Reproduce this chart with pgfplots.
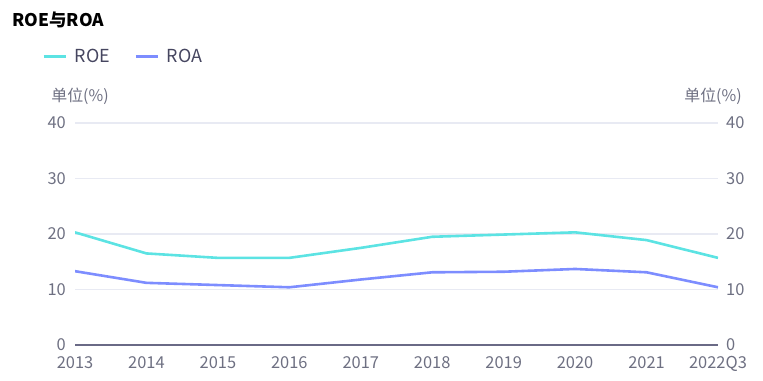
\documentclass[border=0pt]{standalone}
\usepackage{pgfplots}
\pgfplotsset{compat=1.18}
\usepackage{fontspec}
\setmainfont{Noto Sans CJK SC}
\definecolor{roe}{HTML}{5CE3E3}
\definecolor{roa}{HTML}{7D8DFF}
\definecolor{txt}{HTML}{6E7082}
\definecolor{legtxt}{HTML}{464660}
\definecolor{gridc}{HTML}{E8EAF3}
\definecolor{axisc}{HTML}{6A6A86}
\begin{document}
\begin{tikzpicture}[x=1bp,y=1bp]
\useasboundingbox (0,0) rectangle (763,380);
\node[anchor=west, inner sep=0pt, font=\bfseries\fontsize{17.5}{17.5}\selectfont, text=black] at (12,360) {ROE与ROA};
\node[inner sep=0pt, font=\fontsize{16}{16}\selectfont, text=txt] at (80,284) {单位(\%)};
\node[inner sep=0pt, font=\fontsize{16}{16}\selectfont, text=txt] at (713,284) {单位(\%)};
\begin{axis}[
  at={(75bp,35bp)}, anchor=south west, scale only axis,
  width=643bp, height=222bp,
  xmin=0, xmax=9, ymin=0, ymax=40,
  xtick={0,...,9},
  xticklabels={2013,2014,2015,2016,2017,2018,2019,2020,2021,2022Q3},
  ytick={0,10,20,30,40},
  axis x line*=bottom, axis y line*=left,
  x axis line style={axisc, line width=2.2bp, -},
  y axis line style={draw=none},
  major tick length=0pt,
  ymajorgrids, grid style={gridc, line width=1.2bp},
  /pgf/number format/assume math mode=true,
  tick label style={font=\fontsize{16.5}{16.5}\selectfont, text=txt},
  xticklabel style={anchor=north, inner sep=0pt, yshift=-11bp},
  yticklabel style={anchor=east, inner sep=0pt, xshift=-9bp},
  legend style={at={(-0.056,1.30)}, anchor=west, draw=none, fill=none,
    legend columns=2, font=\fontsize{18}{18}\selectfont, text=legtxt,
    nodes={inner sep=2.5bp},
    /tikz/every odd column/.append style={column sep=5bp},
    /tikz/every even column/.append style={column sep=22bp}},
  legend image code/.code={\draw[#1, line width=3bp] (0bp,0bp) -- (22bp,0bp);},
]
\addplot[roe, line width=2.6bp] coordinates {(0,20.3) (1,16.5) (2,15.7) (3,15.7) (4,17.5) (5,19.5) (6,19.9) (7,20.3) (8,18.9) (9,15.7)};
\addlegendentry{ROE}
\addplot[roa, line width=2.6bp] coordinates {(0,13.3) (1,11.2) (2,10.8) (3,10.4) (4,11.8) (5,13.1) (6,13.2) (7,13.7) (8,13.1) (9,10.4)};
\addlegendentry{ROA}
\end{axis}
\begin{axis}[
  at={(75bp,35bp)}, anchor=south west, scale only axis,
  width=643bp, height=222bp,
  xmin=0, xmax=9, ymin=0, ymax=40,
  ytick={0,10,20,30,40},
  hide x axis,
  axis y line*=right,
  y axis line style={draw=none},
  major tick length=0pt,
  /pgf/number format/assume math mode=true,
  tick label style={font=\fontsize{16.5}{16.5}\selectfont, text=txt},
  yticklabel style={anchor=west, inner sep=0pt, xshift=8bp},
]
\addplot[draw=none] coordinates {(0,0) (9,40)};
\end{axis}
\end{tikzpicture}
\end{document}
